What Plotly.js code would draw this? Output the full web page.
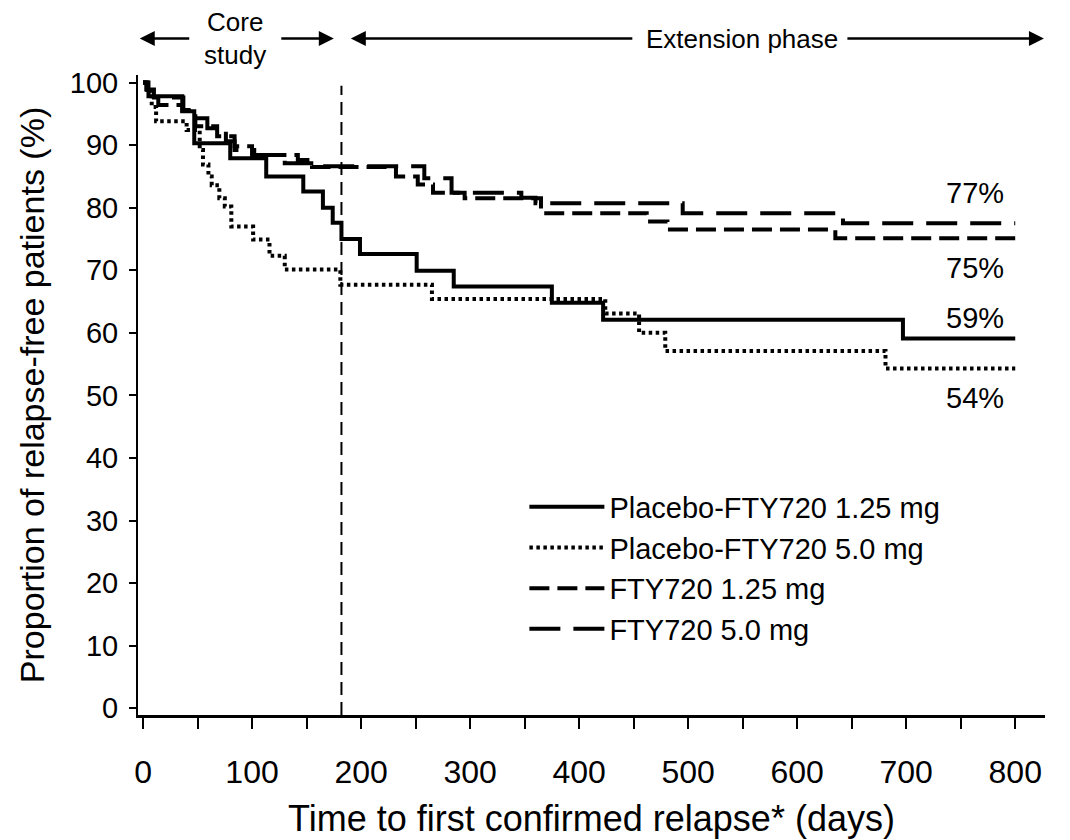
<!DOCTYPE html>
<html>
<head>
<meta charset="utf-8">
<script src="https://cdn.plot.ly/plotly-3.0.1.min.js"></script>
<style>
  html, body { margin: 0; padding: 0; background: #ffffff; }
  #chart { width: 1070px; height: 840px; }
</style>
</head>
<body>
<div id="chart"></div>
<script>
// ---------- data ----------
const seriesNames = ["Placebo-FTY720 1.25 mg", "Placebo-FTY720 5.0 mg", "FTY720 1.25 mg", "FTY720 5.0 mg"];

// Placebo-FTY720 1.25 mg (solid)
const pf125Days = [0, 5, 36, 47, 80, 113, 147, 165, 174, 182, 199, 251, 285, 375, 422, 697, 800];
const pf125Vals = [100, 97.8, 95.4, 90.3, 87.9, 85.0, 82.6, 80.0, 77.6, 75.0, 72.6, 69.9, 67.4, 64.8, 62.1, 59.1, 59.1];

// Placebo-FTY720 5.0 mg (dotted)
const pf50Days = [0, 4, 8, 12, 40, 52, 55, 60, 63, 70, 75, 81, 101, 116, 130, 181, 265, 424, 455, 479, 681, 800];
const pf50Vals = [100, 98.6, 96.1, 93.8, 92.4, 89.2, 86.9, 85.0, 83.6, 81.5, 80.2, 77.0, 74.9, 72.3, 70.1, 67.7, 65.4, 63.1, 60.0, 57.1, 54.3, 54.3];

// FTY720 1.25 mg (short dash)
const f125Days = [0, 4, 14, 36, 48, 68, 84, 100, 142, 155, 232, 252, 266, 295, 365, 462, 481, 635, 800];
const f125Vals = [100, 98.8, 96.4, 95.5, 93.0, 91.4, 89.8, 88.4, 87.6, 86.5, 85.0, 83.7, 82.4, 81.5, 79.1, 77.8, 76.5, 75.1, 75.1];

// FTY720 5.0 mg (long dash)
const f50Days = [0, 3, 10, 37, 46, 59, 76, 84, 102, 130, 157, 258, 283, 347, 360, 495, 642, 800];
const f50Vals = [100, 98.9, 97.6, 95.6, 94.3, 92.7, 90.6, 89.2, 88.4, 87.1, 86.6, 84.7, 82.4, 81.6, 80.7, 79.1, 77.5, 77.5];

// end-of-curve percentage labels
const endLabels = ["77%", "75%", "59%", "54%"];
const endLabelY = [82.4, 70.4, 62.4, 49.6];
const endLabelX = 763;

// axis ticks
const xTickVals = [0, 50, 100, 150, 200, 250, 300, 350, 400, 450, 500, 550, 600, 650, 700, 750, 800];
const xTickText = ["0", "", "100", "", "200", "", "300", "", "400", "", "500", "", "600", "", "700", "", "800"];
const yTickVals = [0, 10, 20, 30, 40, 50, 60, 70, 80, 90, 100];
const yTickText = ["0", "10", "20", "30", "40", "50", "60", "70", "80", "90", "100"];

const coreStudyEnd = 182; // days

// ---------- styling ----------
const REG = '"Liberation Sans", Arial, Helvetica, sans-serif';
const BLACK = '#000000';

const traces = [
  { x: pf125Days, y: pf125Vals, name: seriesNames[0], line: { color: BLACK, width: 4, shape: 'hv', dash: 'solid' } },
  { x: pf50Days,  y: pf50Vals,  name: seriesNames[1], line: { color: BLACK, width: 4, shape: 'hv', dash: '3.5px,3.5px' } },
  { x: f125Days,  y: f125Vals,  name: seriesNames[2], line: { color: BLACK, width: 4, shape: 'hv', dash: '20px,8px' } },
  { x: f50Days,   y: f50Vals,   name: seriesNames[3], line: { color: BLACK, width: 4, shape: 'hv', dash: '31px,13px' } }
].map(t => Object.assign({ type: 'scatter', mode: 'lines', hoverinfo: 'skip' }, t));

const annotations = [];
endLabels.forEach((t, i) => {
  annotations.push({ x: endLabelX, y: endLabelY[i], xref: 'x', yref: 'y', text: t, showarrow: false,
    font: { family: REG, size: 29, color: BLACK }, xanchor: 'center', yanchor: 'middle' });
});
// top phase labels
annotations.push({ x: 84, y: 1.083, xref: 'x', yref: 'paper', text: 'Core', showarrow: false,
  font: { family: REG, size: 26, color: BLACK }, xanchor: 'center', yanchor: 'middle' });
annotations.push({ x: 84, y: 1.031, xref: 'x', yref: 'paper', text: 'study', showarrow: false,
  font: { family: REG, size: 26, color: BLACK }, xanchor: 'center', yanchor: 'middle' });
annotations.push({ x: 549, y: 1.057, xref: 'x', yref: 'paper', text: 'Extension phase', showarrow: false,
  font: { family: REG, size: 26, color: BLACK }, xanchor: 'center', yanchor: 'middle' });
// arrows (head position, tail offset in px)
const arrowDefs = [
  { x: -3, ax: 51 },
  { x: 175, ax: -54 },
  { x: 190.6, ax: 283 },
  { x: 826.3, ax: -198 }
];
arrowDefs.forEach(a => {
  annotations.push({ x: a.x, y: 1.057, xref: 'x', yref: 'paper', text: '', showarrow: true,
    ax: a.ax, ay: 0, axref: 'pixel', ayref: 'pixel', arrowhead: 2, arrowsize: 1.2, arrowwidth: 2.5,
    arrowcolor: BLACK, standoff: 0, startstandoff: 0 });
});

const layout = {
  width: 1070, height: 840,
  margin: { l: 138, r: 25, t: 75, b: 125, pad: 0 },
  paper_bgcolor: '#ffffff', plot_bgcolor: '#ffffff',
  showlegend: true,
  legend: {
    x: 0.426, y: 0.365, xanchor: 'left', yanchor: 'top',
    font: { family: REG, size: 29, color: BLACK },
    bgcolor: 'rgba(0,0,0,0)', borderwidth: 0,
    itemwidth: 75, tracegroupgap: 0, traceorder: 'normal'
  },
  xaxis: {
    range: [-4.6, 827.3], showgrid: false, zeroline: false,
    showline: true, linecolor: BLACK, linewidth: 2.5,
    ticks: 'outside', ticklen: 11, tickwidth: 2, tickcolor: BLACK,
    tickmode: 'array', tickvals: xTickVals, ticktext: xTickText,
    tickfont: { family: REG, size: 32, color: BLACK },
    ticklabelstandoff: 16,
    title: { text: 'Time to first confirmed relapse* (days)', font: { family: REG, size: 36, color: BLACK }, standoff: 17 }
  },
  yaxis: {
    range: [-1.07, 101.2], showgrid: false, zeroline: false,
    showline: true, linecolor: BLACK, linewidth: 2,
    ticks: 'outside', ticklen: 7, tickwidth: 2, tickcolor: BLACK,
    tickmode: 'array', tickvals: yTickVals, ticktext: yTickText,
    tickfont: { family: REG, size: 29, color: BLACK },
    ticklabelstandoff: 5,
    title: { text: 'Proportion of relapse-free patients (%)', font: { family: REG, size: 34, color: BLACK }, standoff: 15 }
  },
  shapes: [
    { type: 'line', xref: 'x', yref: 'y', x0: coreStudyEnd, x1: coreStudyEnd, y0: -1.07, y1: 99.5,
      line: { color: BLACK, width: 2, dash: '13px,7px' } }
  ],
  annotations: annotations
};

Plotly.newPlot('chart', traces, layout, { displayModeBar: false, staticPlot: true });
</script>
</body>
</html>
